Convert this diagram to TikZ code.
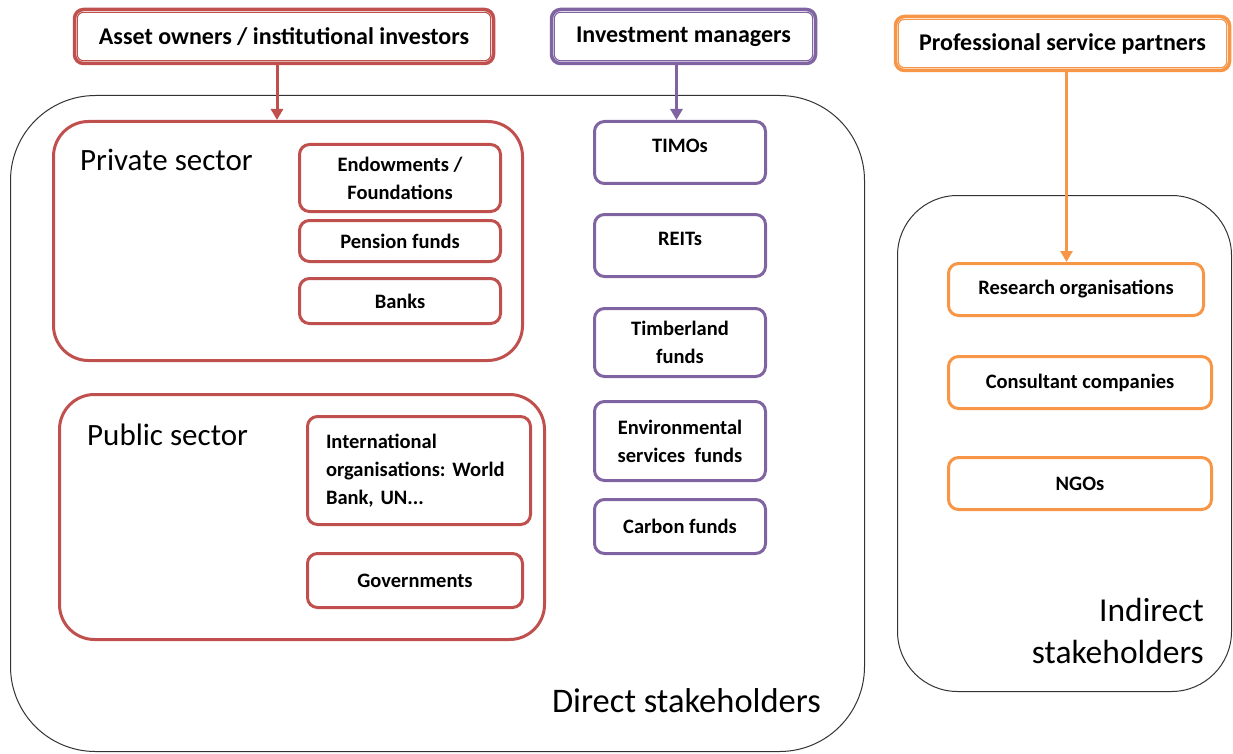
\documentclass[tikz,border=0pt]{standalone}
\usepackage{fontspec}
\setmainfont{Carlito}
\usetikzlibrary{arrows.meta}
\definecolor{ownred}{HTML}{C0504D}
\definecolor{mgrpurple}{HTML}{8064A2}
\definecolor{srvorange}{HTML}{F79646}
\frenchspacing
\tikzset{%
	headbox/.style={
		draw=#1,
		line width=3.5pt,
		rounded corners=9pt,
		fill=white,
		font=\fontsize{24}{28}\selectfont\bfseries
	},
	sectorbox/.style={
		draw=ownred,
		line width=3pt,
		rounded corners=35pt
	},
	fundbox/.style={
		draw=#1,
		line width=3pt,
		rounded corners=10pt,
		align=center,
		font=\fontsize{20.5}{28}\selectfont\bfseries
	},
	raised/.style={text depth=14pt},
	stakeframe/.style={
		draw=black!80,
		line width=1pt,
		rounded corners=#1
	},
	stakeframe/.default=85pt,
	feed/.style={
		draw=#1,
		line width=3pt,
		-{Triangle[width=12pt,length=11pt]}
	},
}
\begin{document}
\begin{tikzpicture}[x=1pt,y=-1pt]
	\useasboundingbox (0,0) rectangle (1233,754);
	
	% Stakeholder frames
	\node[stakeframe, minimum width=854pt, minimum height=656pt] (direct) at (437.5,423.5) {};
	\node[stakeframe=60pt, minimum width=334pt, minimum height=496pt] (indirect) at (1064.5,443.5) {};
	
	% Frame labels
	\node[anchor=east, inner sep=0pt, font=\fontsize{34.5}{40}\selectfont] (directlbl) at (821,701) {Direct stakeholders};
	\node[anchor=east, inner sep=0pt, align=right, font=\fontsize{33.5}{42}\selectfont] (indirectlbl) at (1204,631) {Indirect\\stakeholders};
	
	% Sectors
	\node[sectorbox, minimum width=469pt, minimum height=239pt] (private) at (288,241) {};
	\node[sectorbox, minimum width=485pt, minimum height=245pt] (public) at (302,517) {};
	\node[anchor=west, inner sep=0pt, font=\fontsize{31}{36}\selectfont] (privatelbl) at (80,160) {Private sector};
	\node[anchor=west, inner sep=0pt, font=\fontsize{31}{36}\selectfont] (publiclbl) at (87,435) {Public sector};
	
	% Asset owners
	\node[fundbox=ownred, minimum width=201pt, minimum height=67pt] (endow) at (400,178) {Endowments /\\Foundations};
	\node[fundbox=ownred, minimum width=201pt, minimum height=41pt] (pension) at (400,241) {Pension funds};
	\node[fundbox=ownred, minimum width=201pt, minimum height=45pt] (banks) at (400,301) {Banks};
	\node[fundbox=ownred, minimum width=223pt, minimum height=108pt, align=left, text width=186pt] (intorg) at (419,470.5) {International\\organisations: World\\Bank, UN...};
	\node[fundbox=ownred, minimum width=215pt, minimum height=54pt] (gov) at (415,580.5) {Governments};
	
	% Investment managers
	\node[fundbox=mgrpurple, raised, minimum width=171pt, minimum height=62pt] (timos) at (680,152.5) {TIMOs};
	\node[fundbox=mgrpurple, raised, minimum width=171pt, minimum height=62pt] (reits) at (680,245.5) {REITs};
	\node[fundbox=mgrpurple, minimum width=171pt, minimum height=68pt] (timber) at (680,342.5) {Timberland\\funds};
	\node[fundbox=mgrpurple, minimum width=171pt, minimum height=79pt] (envfund) at (680,441) {Environmental\\services\ \ funds};
	\node[fundbox=mgrpurple, minimum width=171pt, minimum height=54pt] (carbon) at (680,526.5) {Carbon funds};
	
	% Professional services
	\node[fundbox=srvorange, minimum width=255pt, minimum height=52pt] (research) at (1076,289.5) {Research organisations};
	\node[fundbox=srvorange, minimum width=263pt, minimum height=52pt] (consult) at (1080,382.5) {Consultant companies};
	\node[fundbox=srvorange, minimum width=263pt, minimum height=52pt] (ngo) at (1080,483.5) {NGOs};
	
	% Headers
	\node[headbox=ownred, minimum width=419pt, minimum height=54pt] (owners) at (284,36.5) {Asset owners / institutional investors};
	\node[headbox=mgrpurple, minimum width=264pt, minimum height=54pt] (managers) at (683.5,36.5) {Investment managers};
	\node[headbox=srvorange, minimum width=334pt, minimum height=54pt] (partners) at (1062.5,43.5) {Professional service partners};
	\foreach \h/\c in {owners/ownred, managers/mgrpurple, partners/srvorange}
		\draw[\c, line width=1.1pt, rounded corners=6pt] ([shift={(4.6pt,-4.6pt)}]\h.north west) rectangle ([shift={(-4.6pt,4.6pt)}]\h.south east);
	
	% Arrows
	\draw[feed=ownred] ([xshift=-7pt]owners.south) -- ([xshift=-7pt]owners.south |- private.north);
	\draw[feed=mgrpurple] ([xshift=-7pt]managers.south) -- ([xshift=-7pt]managers.south |- timos.north);
	\draw[feed=srvorange] ([xshift=4pt]partners.south) -- ([xshift=4pt]partners.south |- research.north);
\end{tikzpicture}
\end{document}
